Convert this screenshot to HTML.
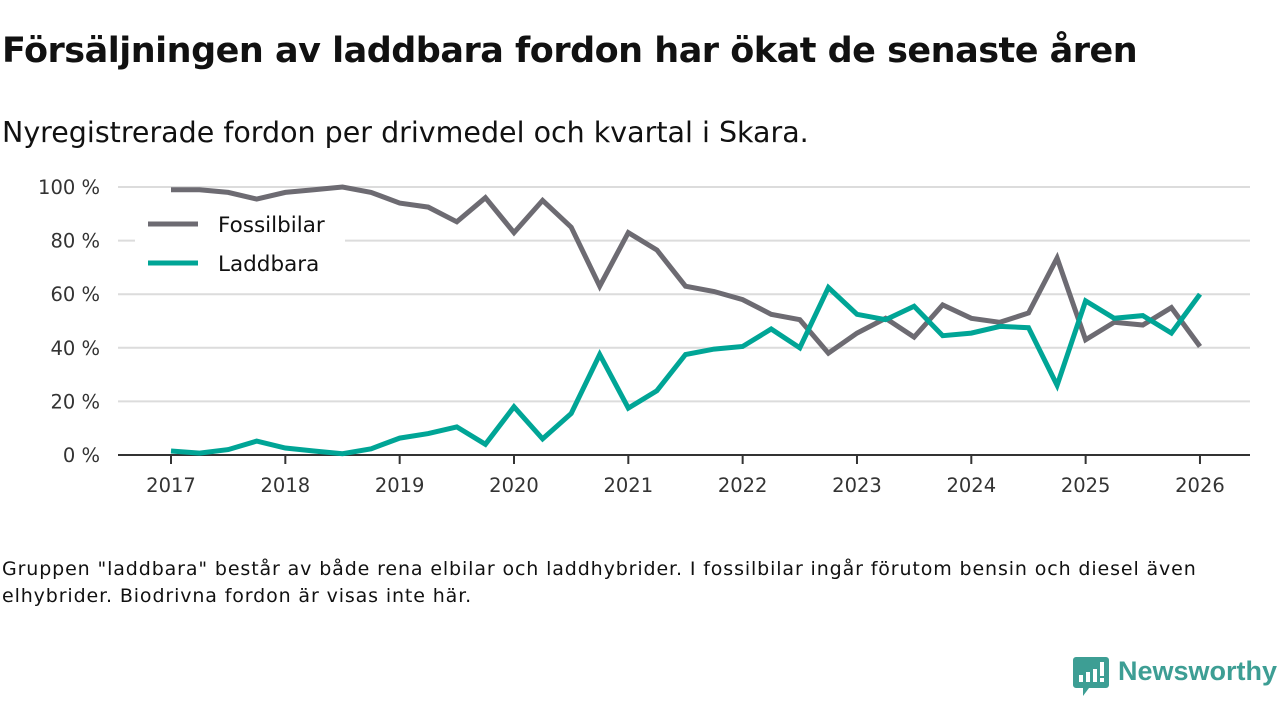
<!DOCTYPE html>
<html><head><meta charset="utf-8"><style>
body{margin:0;width:1280px;height:720px;background:#fff;font-family:"DejaVu Sans","Liberation Sans",sans-serif;position:relative;overflow:hidden}
.t{position:absolute;margin:0;color:#111;white-space:nowrap}
</style></head><body>
<h1 class="t" style="left:2px;top:31px;font-size:35px;font-weight:bold;letter-spacing:-0.5px">Försäljningen av laddbara fordon har ökat de senaste åren</h1>
<div class="t" style="left:2px;top:116px;font-size:28.5px">Nyregistrerade fordon per drivmedel och kvartal i Skara.</div>
<svg id="chart" width="1280" height="520" style="position:absolute;left:0;top:0" font-family="DejaVu Sans, Liberation Sans, sans-serif"></svg>
<div class="t" style="left:2px;top:556px;font-size:19px;letter-spacing:0.88px;line-height:27px;width:1240px;white-space:normal">Gruppen "laddbara" består av både rena elbilar och laddhybrider. I fossilbilar ingår förutom bensin och diesel även elhybrider. Biodrivna fordon är visas inte här.</div>
<div style="position:absolute;left:1073px;top:657px;">
<svg width="36" height="40"><path d="M3 0h30a3 3 0 0 1 3 3v25a3 3 0 0 1-3 3H16l-6 8v-8H3a3 3 0 0 1-3-3V3a3 3 0 0 1 3-3z" fill="#3d9e94"/><rect x="6" y="18" width="4" height="7" fill="#fff"/><rect x="13" y="15" width="4" height="10" fill="#fff"/><rect x="20" y="12" width="4" height="13" fill="#fff"/><rect x="27" y="5" width="4" height="14" fill="#fff"/><rect x="27" y="21" width="4" height="4" fill="#fff"/></svg>
<span style="position:absolute;left:45px;top:-1px;font-family:'Liberation Sans',sans-serif;font-size:27px;font-weight:bold;color:#3d9e94;white-space:nowrap">Newsworthy</span></div>
<script>
const years=[2017,2018,2019,2020,2021,2022,2023,2024,2025,2026];
const yTicks=[0,20,40,60,80,100];
const fossil=[99,99,98,95.5,98,99,100,98,94,92.5,87,96,83,95,85,63,83,76.5,63,61,58,52.5,50.5,38,45.5,51,44,56,51,49.5,53,73.5,43,49.5,48.5,55,40.5];
const laddbara=[1.5,0.7,2,5.2,2.6,1.5,0.5,2.3,6.3,8,10.5,4,18,6,15.5,37.5,17.5,24,37.5,39.5,40.5,47,40,62.5,52.5,50.5,55.5,44.5,45.5,48,47.5,26,57.5,51,52,45.5,60];
const svg=document.getElementById('chart');const NS='http://www.w3.org/2000/svg';
const x=t=>171+(t-2017)*114.33;const y=v=>455-v*2.68;
function el(tag,a,p){const e=document.createElementNS(NS,tag);for(const k in a)e.setAttribute(k,a[k]);(p||svg).appendChild(e);return e;}
yTicks.forEach(v=>{
 if(v>0){const g=el('line',{x1:118,x2:1250,y1:y(v),y2:y(v),stroke:'#dcdcdc','stroke-width':2});
 
 }
 const t=el('text',{x:100,y:y(v)+7,'text-anchor':'end','font-size':19.5,fill:'#333'});t.textContent=v+' %';
 
 
});
const ax=el('line',{x1:118,x2:1250,y1:455,y2:455,stroke:'#333','stroke-width':2});


years.forEach(yr=>{
 const tk=el('line',{x1:x(yr),x2:x(yr),y1:455,y2:464,stroke:'#333','stroke-width':2});
 
 
 const t=el('text',{x:x(yr),y:492,'text-anchor':'middle','font-size':19.5,fill:'#333'});t.textContent=yr;
 
 
});
function line(data,color,name){
 const d=data.map((v,i)=>(i?'L':'M')+x(2017+i*0.25).toFixed(1)+' '+y(v).toFixed(1)).join(' ');
 const p=el('path',{d:d,fill:'none',stroke:color,'stroke-width':5,'stroke-linejoin':'miter'});
 
 
}
line(fossil,'#6d6b72','fossilbilar-line');
line(laddbara,'#00a596','laddbara-line');
const lb=el('rect',{x:135,y:205,width:210,height:88,fill:'#fff'});


[['Fossilbilar','#6d6b72',224],['Laddbara','#00a596',263]].forEach(([n,c,yy])=>{
 const l=el('line',{x1:148,x2:198,y1:yy,y2:yy,stroke:c,'stroke-width':5});
 
 
 const t=el('text',{x:218,y:yy+8,'font-size':21.5,fill:'#111'});t.textContent=n;
 
 
});
</script>
</body></html>
